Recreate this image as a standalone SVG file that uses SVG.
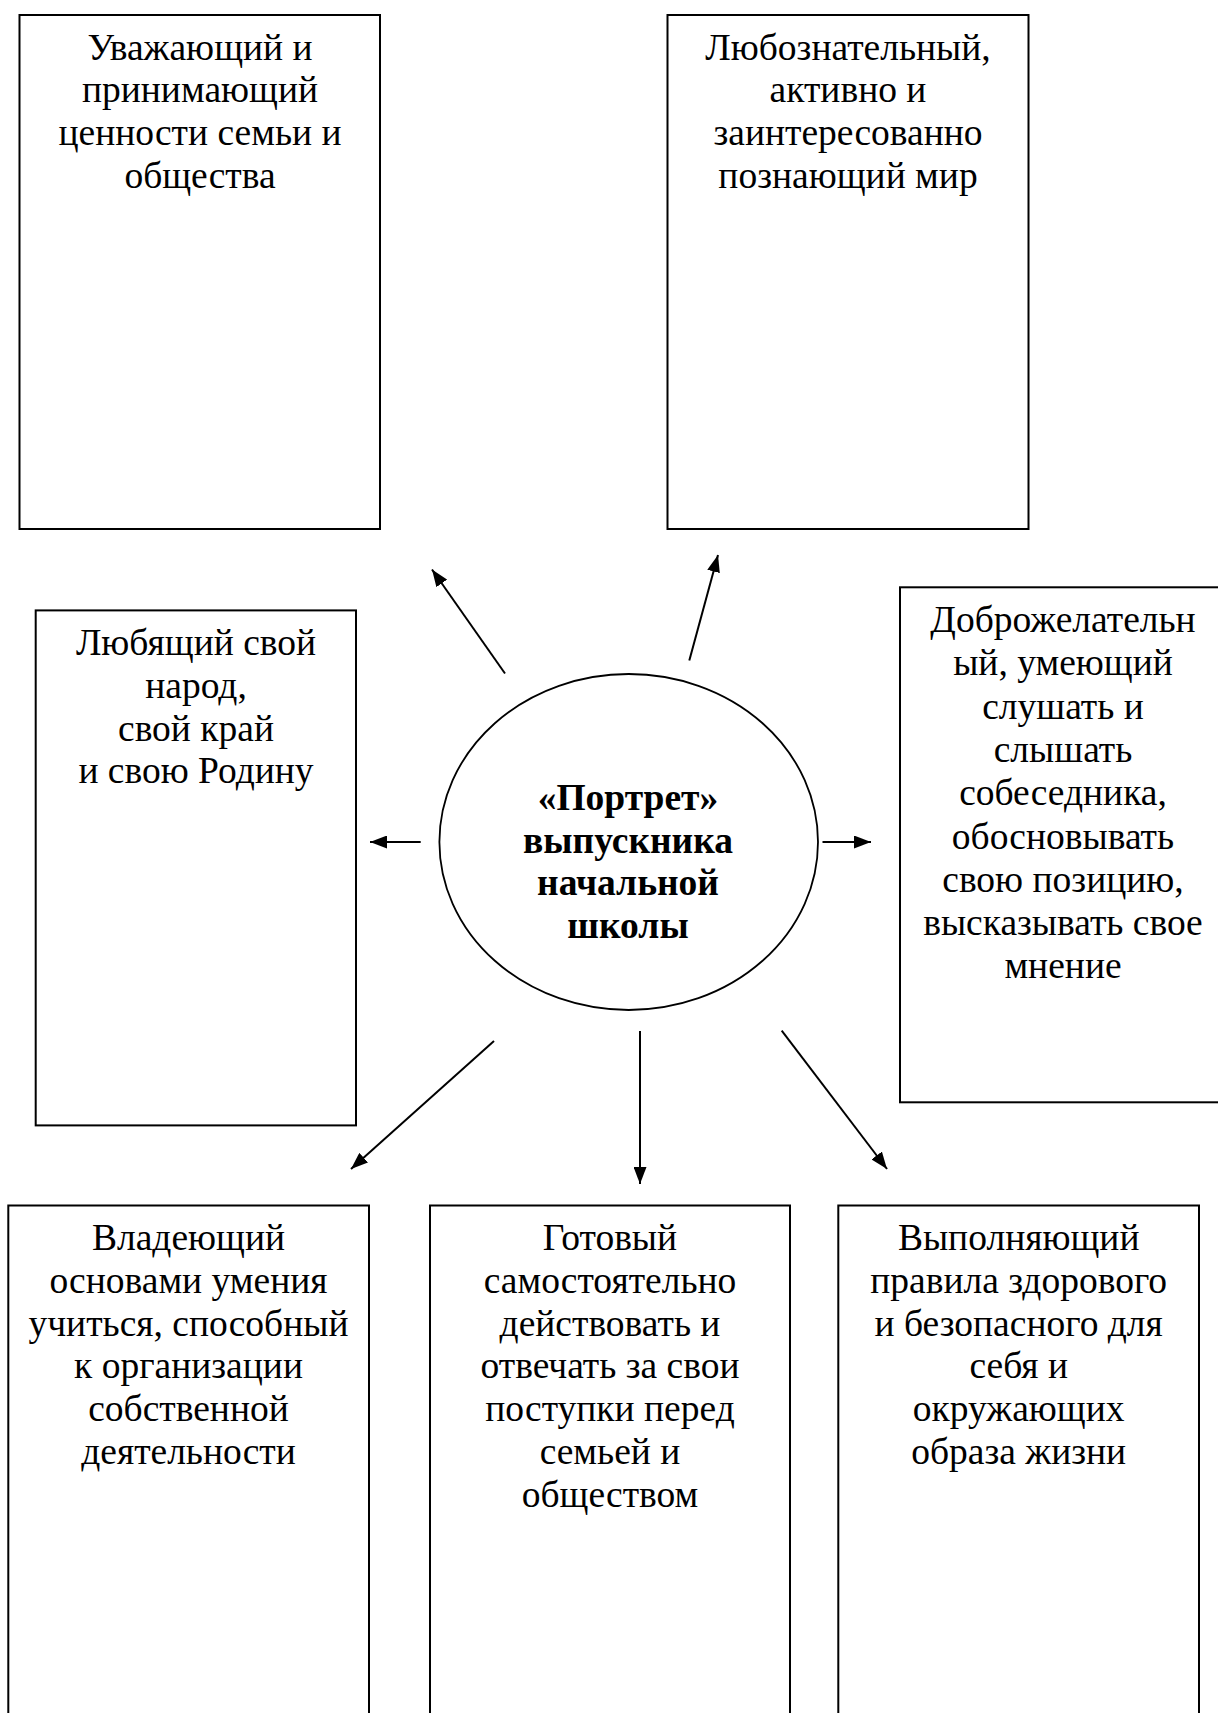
<svg xmlns="http://www.w3.org/2000/svg" width="1218" height="1713" viewBox="0 0 1218 1713">
<style>
.box{fill:#fff;stroke:#000;stroke-width:2}
.t{font-family:"Liberation Serif","Times New Roman",serif;font-size:37.5px;fill:#000;text-anchor:middle}
.b{font-weight:bold}
.c{stroke:#000;stroke-width:2;fill:none}
</style>
<defs>
<marker id="ah" markerUnits="userSpaceOnUse" markerWidth="18" markerHeight="13" refX="17" refY="6.5" orient="auto">
<path d="M0,0 L17,6.5 L0,13 z" fill="#000"/>
</marker>
</defs>
<rect width="1218" height="1713" fill="#fff"/>
<g id="connectors">
<line class="c" x1="505" y1="673.5" x2="432" y2="569.5" marker-end="url(#ah)"/>
<line class="c" x1="689.3" y1="660.6" x2="718" y2="555" marker-end="url(#ah)"/>
<line class="c" x1="420.7" y1="842" x2="370" y2="842" marker-end="url(#ah)"/>
<line class="c" x1="822.5" y1="842" x2="871" y2="842" marker-end="url(#ah)"/>
<line class="c" x1="494" y1="1041" x2="351" y2="1169" marker-end="url(#ah)"/>
<line class="c" x1="640" y1="1031" x2="640" y2="1184" marker-end="url(#ah)"/>
<line class="c" x1="781.7" y1="1030.7" x2="887" y2="1169" marker-end="url(#ah)"/>
</g>
<g id="n1">
<rect class="box" x="19.5" y="15" width="360.5" height="514"/>
<text class="t" x="200" y="59.5">Уважающий и</text>
<text class="t" x="200" y="102.3">принимающий</text>
<text class="t" x="200" y="145.1">ценности семьи и</text>
<text class="t" x="200" y="187.9">общества</text>
</g>
<g id="n2">
<rect class="box" x="667.5" y="15" width="361" height="514"/>
<text class="t" x="848" y="59.5">Любознательный,</text>
<text class="t" x="848" y="102.3">активно и</text>
<text class="t" x="848" y="145.1">заинтересованно</text>
<text class="t" x="848" y="187.9">познающий мир</text>
</g>
<g id="n3">
<rect class="box" x="35.7" y="610.4" width="320.3" height="515"/>
<text class="t" x="196" y="655">Любящий свой</text>
<text class="t" x="196" y="697.8">народ,</text>
<text class="t" x="196" y="740.6">свой край</text>
<text class="t" x="196" y="783.4">и свою Родину</text>
</g>
<g id="n4">
<rect class="box" x="900" y="587.3" width="328" height="515"/>
<text class="t" x="1063" y="632">Доброжелательн</text>
<text class="t" x="1063" y="675.3">ый, умеющий</text>
<text class="t" x="1063" y="718.6">слушать и</text>
<text class="t" x="1063" y="761.9">слышать</text>
<text class="t" x="1063" y="805.2">собеседника,</text>
<text class="t" x="1063" y="848.5">обосновывать</text>
<text class="t" x="1063" y="891.8">свою позицию,</text>
<text class="t" x="1063" y="935.1">высказывать свое</text>
<text class="t" x="1063" y="978.4">мнение</text>
</g>
<g id="center">
<ellipse cx="628.7" cy="842" rx="189.3" ry="168" fill="#fff" stroke="#000" stroke-width="1.8"/>
<text class="t b" x="628" y="810">«Портрет»</text>
<text class="t b" x="628" y="852.5">выпускника</text>
<text class="t b" x="628" y="895">начальной</text>
<text class="t b" x="628" y="937.5">школы</text>
</g>
<g id="n5">
<rect class="box" x="8.3" y="1205.5" width="360.7" height="530"/>
<text class="t" x="188.5" y="1250">Владеющий</text>
<text class="t" x="188.5" y="1292.8">основами умения</text>
<text class="t" x="188.5" y="1335.6">учиться, способный</text>
<text class="t" x="188.5" y="1378.4">к организации</text>
<text class="t" x="188.5" y="1421.2">собственной</text>
<text class="t" x="188.5" y="1464">деятельности</text>
</g>
<g id="n6">
<rect class="box" x="430" y="1205.5" width="360" height="530"/>
<text class="t" x="610" y="1250">Готовый</text>
<text class="t" x="610" y="1292.8">самостоятельно</text>
<text class="t" x="610" y="1335.6">действовать и</text>
<text class="t" x="610" y="1378.4">отвечать за свои</text>
<text class="t" x="610" y="1421.2">поступки перед</text>
<text class="t" x="610" y="1464">семьей и</text>
<text class="t" x="610" y="1506.8">обществом</text>
</g>
<g id="n7">
<rect class="box" x="838.3" y="1205.5" width="360.7" height="530"/>
<text class="t" x="1018.7" y="1250">Выполняющий</text>
<text class="t" x="1018.7" y="1292.8">правила здорового</text>
<text class="t" x="1018.7" y="1335.6">и безопасного для</text>
<text class="t" x="1018.7" y="1378.4">себя и</text>
<text class="t" x="1018.7" y="1421.2">окружающих</text>
<text class="t" x="1018.7" y="1464">образа жизни</text>
</g>
</svg>
